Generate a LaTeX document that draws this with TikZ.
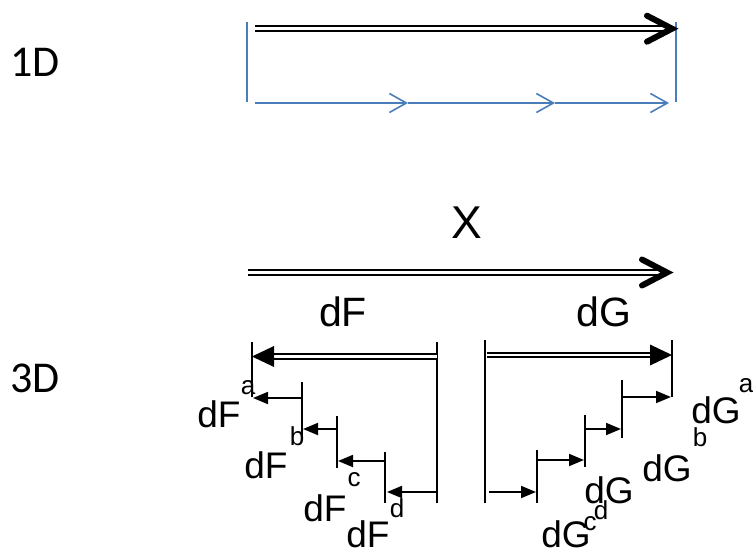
\documentclass[tikz,border=0pt]{standalone}
\usepackage{fontspec}
\setmainfont{Liberation Sans}
\newfontfamily\dimfont{Carlito}
\usetikzlibrary{arrows.meta}
\definecolor{lineblue}{RGB}{74,126,187}

\begin{document}
\begin{tikzpicture}[x=1pt,y=-1pt,
  dbl/.style={line width=2pt, double=white, double distance=2.5pt},
  chevron/.style={line width=6pt, line cap=round, line join=miter},
  tickline/.style={line width=1.8pt},
  stepline/.style={line width=1.8pt, -{Triangle[length=15pt,width=12pt]}},
  blueline/.style={draw=lineblue, line width=1.6pt},
  bluebarb/.style={blueline, -{Straight Barb[length=17pt,width=19pt]}},
  dimtext/.style={inner sep=0pt, font=\dimfont\fontsize{44}{44}\selectfont},
  bigtext/.style={inner sep=0pt, font=\fontsize{41}{41}\selectfont},
  midtext/.style={inner sep=0pt, font=\fontsize{37}{37}\selectfont},
  suptext/.style={inner sep=0pt, font=\fontsize{26}{26}\selectfont}]

\useasboundingbox (0,0) rectangle (753,554);

% ---------- 1D ----------
\node[dimtext] (oneD) at (35,62.5) {1D};

\coordinate (bl0) at (247,22);  \coordinate (bl1) at (247,102);
\coordinate (br0) at (676,22);  \coordinate (br1) at (676,102);
\draw[blueline] (bl0) -- (bl1);
\draw[blueline] (br0) -- (br1);

\coordinate (b0) at (255,103);
\coordinate (m1) at (408,103);
\coordinate (m2) at (555,103);
\coordinate (b1) at (669,103);
\draw[bluebarb] (b0) -- (m1);
\draw[bluebarb] (m1) -- (m2);
\draw[bluebarb] (m2) -- (b1);

\coordinate (x0) at (255,28.7);
\coordinate (x1) at (670,28.7);
\coordinate (xt) at (672,28.7);
\draw[dbl] (x0) -- (x1);
\draw[chevron] ([shift={(-25,-13)}]xt) -- (xt) -- ([shift={(-25,13)}]xt);

% ---------- 3D ----------
\node[dimtext] (threeD) at (35,378) {3D};
\node[inner sep=0pt, font=\fontsize{46}{46}\selectfont] (X) at (467,223) {X};

\coordinate (X0) at (248,272.5);
\coordinate (X1) at (664,272.5);
\coordinate (Xt) at (667,272.5);
\draw[dbl] (X0) -- (X1);
\draw[chevron] ([shift={(-25,-13)}]Xt) -- (Xt) -- ([shift={(-25,13)}]Xt);

\node[bigtext] (dF) at (343,312) {dF};
\node[bigtext] (dG) at (604,312) {dG};

% left half: dF and its parts
\coordinate (FLtop) at (252,342); \coordinate (FLbot) at (252,397);
\coordinate (FRtop) at (437,342); \coordinate (FRbot) at (437,503);
\draw[tickline] (FLtop) -- (FLbot);
\draw[tickline] (FRtop) -- (FRbot);
\coordinate (Fs) at (437,356.5);
\coordinate (Fe) at (271,356.5);
\coordinate (Ft) at (252,356.5);
\draw[dbl] (Fs) -- (Fe);
\fill (Ft) -- ++(22,-10.5) -- ++(0,21) -- cycle;

\coordinate (Fa) at (302,382); \coordinate (Fa2) at (302,437);
\coordinate (Fb) at (337,416); \coordinate (Fb2) at (337,468);
\coordinate (Fc) at (385,452); \coordinate (Fc2) at (385,503);
\draw[tickline] (Fa) -- (Fa2);
\draw[tickline] (Fb) -- (Fb2);
\draw[tickline] (Fc) -- (Fc2);

\coordinate (Fa0) at (302,398); \coordinate (Fa1) at (253,398);
\coordinate (Fb0) at (337,429); \coordinate (Fb1) at (303,429);
\coordinate (Fc0) at (385,461); \coordinate (Fc1) at (338,461);
\coordinate (Fd0) at (436,492); \coordinate (Fd1) at (387,492);
\draw[stepline] (Fa0) -- (Fa1);
\draw[stepline] (Fb0) -- (Fb1);
\draw[stepline] (Fc0) -- (Fc1);
\draw[stepline] (Fd0) -- (Fd1);

\node[midtext] (dFa) at (219,414) {dF};
\node[suptext] (sa) at (248,388) {a};
\node[midtext] (dFb) at (266,465) {dF};
\node[suptext] (sb) at (297,436) {b};
\node[midtext] (dFc) at (325,508) {dF};
\node[suptext] (sc) at (354,480) {c};
\node[midtext] (dFd) at (368,534) {dF};
\node[suptext] (sd) at (397,508) {d};

% right half: dG and its parts
\coordinate (GLtop) at (485,340); \coordinate (GLbot) at (485,503);
\coordinate (GRtop) at (672,340); \coordinate (GRbot) at (672,397);
\draw[tickline] (GLtop) -- (GLbot);
\draw[tickline] (GRtop) -- (GRbot);
\coordinate (Gs) at (487,355);
\coordinate (Ge) at (652,355);
\coordinate (Gt) at (672,355);
\draw[dbl] (Gs) -- (Ge);
\fill (Gt) -- ++(-22,-10.5) -- ++(0,21) -- cycle;

\coordinate (Ga) at (622,380); \coordinate (Ga2) at (622,438);
\coordinate (Gb) at (585,415); \coordinate (Gb2) at (585,467);
\coordinate (Gc) at (537,450); \coordinate (Gc2) at (537,503);
\draw[tickline] (Ga) -- (Ga2);
\draw[tickline] (Gb) -- (Gb2);
\draw[tickline] (Gc) -- (Gc2);

\coordinate (Ga0) at (622,397); \coordinate (Ga1) at (671,397);
\coordinate (Gb0) at (585,429); \coordinate (Gb1) at (621,429);
\coordinate (Gc0) at (537,460); \coordinate (Gc1) at (584,460);
\coordinate (Gd0) at (489,492); \coordinate (Gd1) at (536,492);
\draw[stepline] (Ga0) -- (Ga1);
\draw[stepline] (Gb0) -- (Gb1);
\draw[stepline] (Gc0) -- (Gc1);
\draw[stepline] (Gd0) -- (Gd1);

\node[midtext] (dGa) at (716,410) {dG};
\node[suptext] (ta) at (746,386) {a};
\node[midtext] (dGb) at (667,468) {dG};
\node[suptext] (tb) at (700,437) {b};
\node[midtext] (dGd) at (609,490) {dG};
\node[suptext] (td) at (601,510) {d};
\node[suptext] (tc) at (590,524) {c};
\node[midtext] (dGc) at (566,534) {dG};
\end{tikzpicture}
\end{document}
